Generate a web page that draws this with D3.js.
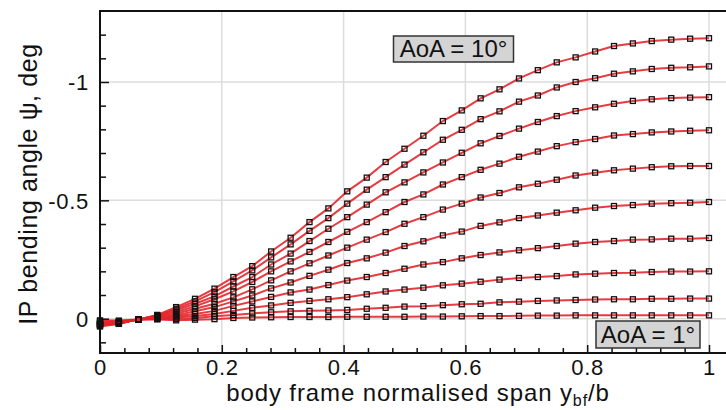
<!DOCTYPE html>
<html>
<head>
<meta charset="utf-8">
<script src="https://cdn.jsdelivr.net/npm/d3@7"></script>
<style>
	body { margin: 0; background: #fff; }
	svg { display: block; }
	text { font-family: "Liberation Sans", Arial, sans-serif; fill: #111; }
</style>
</head>
<body>
<svg width="726" height="410"></svg>
<script>
// Spanwise stations (normalised span y_bf/b)
const spanPts = [0, 0.031, 0.063, 0.094, 0.125, 0.156, 0.188, 0.219, 0.25, 0.281, 0.313, 0.344, 0.375, 0.406, 0.438, 0.469,
	0.5, 0.531, 0.563, 0.594, 0.625, 0.656, 0.688, 0.719, 0.75, 0.781, 0.813, 0.844, 0.875, 0.906, 0.938, 0.969, 1];

// IP bending angle (deg) per angle of attack
const aoa1 = [0.007, 0.008, 0.003, 0.003, 0.007, 0.004, 0.002, -0.003, -0.005, -0.006, -0.007, -0.007, -0.007, -0.008, -0.008, -0.008,
	-0.008, -0.009, -0.009, -0.010, -0.011, -0.011, -0.012, -0.013, -0.013, -0.014, -0.014, -0.014, -0.014, -0.014, -0.014, -0.014, -0.014];
const aoa2 = [0.011, 0.011, 0.003, 0.001, 0.001, -0.003, -0.010, -0.016, -0.022, -0.027, -0.031, -0.033, -0.035, -0.037, -0.042, -0.046,
	-0.051, -0.053, -0.057, -0.061, -0.063, -0.069, -0.072, -0.075, -0.077, -0.079, -0.081, -0.082, -0.082, -0.084, -0.084, -0.085, -0.085];
const aoa3 = [0.016, 0.013, 0.003, -0.001, -0.005, -0.011, -0.020, -0.033, -0.046, -0.056, -0.067, -0.075, -0.082, -0.091, -0.103, -0.115,
	-0.123, -0.131, -0.141, -0.148, -0.156, -0.165, -0.172, -0.176, -0.180, -0.187, -0.190, -0.193, -0.194, -0.197, -0.199, -0.199, -0.200];
const aoa4 = [0.020, 0.015, 0.003, -0.003, -0.010, -0.020, -0.033, -0.054, -0.073, -0.092, -0.111, -0.123, -0.142, -0.161, -0.176, -0.193,
	-0.211, -0.229, -0.239, -0.255, -0.269, -0.280, -0.289, -0.298, -0.307, -0.317, -0.324, -0.328, -0.334, -0.335, -0.338, -0.338, -0.341];
const aoa5 = [0.022, 0.016, 0.003, -0.005, -0.014, -0.031, -0.049, -0.073, -0.098, -0.128, -0.153, -0.181, -0.207, -0.235, -0.255, -0.279,
	-0.307, -0.327, -0.352, -0.368, -0.392, -0.407, -0.425, -0.436, -0.448, -0.458, -0.469, -0.476, -0.480, -0.486, -0.488, -0.490, -0.493];
const aoa6 = [0.024, 0.018, 0.003, -0.008, -0.021, -0.042, -0.063, -0.090, -0.124, -0.162, -0.200, -0.234, -0.267, -0.300, -0.334, -0.366,
	-0.401, -0.429, -0.461, -0.486, -0.512, -0.531, -0.555, -0.570, -0.587, -0.605, -0.617, -0.627, -0.634, -0.640, -0.644, -0.645, -0.645];
const aoa7 = [0.026, 0.019, 0.003, -0.010, -0.028, -0.052, -0.082, -0.115, -0.155, -0.200, -0.242, -0.282, -0.324, -0.367, -0.408, -0.450,
	-0.493, -0.525, -0.567, -0.598, -0.629, -0.655, -0.684, -0.706, -0.729, -0.746, -0.759, -0.774, -0.780, -0.787, -0.791, -0.794, -0.796];
const aoa8 = [0.028, 0.020, 0.003, -0.012, -0.035, -0.063, -0.094, -0.136, -0.176, -0.229, -0.275, -0.328, -0.380, -0.429, -0.482, -0.534,
	-0.576, -0.618, -0.660, -0.701, -0.741, -0.772, -0.803, -0.831, -0.856, -0.877, -0.893, -0.908, -0.920, -0.927, -0.932, -0.934, -0.936];
const aoa9 = [0.030, 0.021, 0.003, -0.014, -0.042, -0.073, -0.112, -0.158, -0.204, -0.259, -0.314, -0.371, -0.425, -0.486, -0.545, -0.598,
	-0.651, -0.703, -0.756, -0.798, -0.843, -0.876, -0.917, -0.943, -0.977, -1.000, -1.016, -1.035, -1.045, -1.055, -1.060, -1.062, -1.066];
const aoa10 = [0.033, 0.022, 0.003, -0.016, -0.049, -0.084, -0.127, -0.176, -0.222, -0.284, -0.342, -0.408, -0.466, -0.538, -0.596, -0.662,
	-0.718, -0.773, -0.835, -0.880, -0.931, -0.969, -1.015, -1.050, -1.083, -1.104, -1.129, -1.152, -1.163, -1.173, -1.179, -1.183, -1.185];

const allCurves = [aoa1, aoa2, aoa3, aoa4, aoa5, aoa6, aoa7, aoa8, aoa9, aoa10];

// Ticks
const xMajor = [0, 0.2, 0.4, 0.6, 0.8, 1];
const xMinor = [0.04, 0.08, 0.12, 0.16, 0.24, 0.28, 0.32, 0.36, 0.44, 0.48, 0.52, 0.56, 0.64, 0.68, 0.72, 0.76, 0.84, 0.88, 0.92, 0.96];
const yMajor = [-1, -0.5, 0];
const yMinor = [-1.2, -1.1, -0.9, -0.8, -0.7, -0.6, -0.4, -0.3, -0.2, -0.1, 0.1];

const svg = d3.select("svg");
const plotLeft = 100, plotRight = 709, plotTop = 11, plotBottom = 353;

const x = d3.scaleLinear().domain([0, 1]).range([plotLeft, plotRight]);
const y = d3.scaleLinear().domain([0.145, -1.3]).range([plotBottom, plotTop]);

// Grid
//-----------------------------------------------------------//
svg.append("g").selectAll("line").data(xMajor.filter(d => d > 0)).join("line")
	.attr("x1", d => x(d)).attr("x2", d => x(d))
	.attr("y1", plotTop).attr("y2", plotBottom)
	.style("stroke", "#dcdcdc").style("stroke-width", 1.5);
svg.append("g").selectAll("line").data(yMajor).join("line")
	.attr("x1", plotLeft).attr("x2", 726)
	.attr("y1", d => y(d)).attr("y2", d => y(d))
	.style("stroke", "#dcdcdc").style("stroke-width", 1.5);

// Curves + markers
//-----------------------------------------------------------//
const line = d3.line()
	.x((d, i) => x(spanPts[i]))
	.y(d => y(d));

svg.append("g").selectAll("path").data(allCurves).join("path")
	.attr("d", line)
	.style("fill", "none")
	.style("stroke", "#e3262b")
	.style("stroke-width", 2)
	.style("opacity", 0.9);

allCurves.forEach((curve) => {
	svg.append("g").selectAll("rect").data(curve).join("rect")
		.attr("x", (d, i) => x(spanPts[i]) - 2.5)
		.attr("y", d => y(d) - 2.5)
		.attr("width", 5)
		.attr("height", 5)
		.style("fill", "none")
		.style("stroke", "#111")
		.style("stroke-width", 1.3);
});

// Frame
//-----------------------------------------------------------//
svg.append("path")
	.attr("d", `M726,${plotTop}H${plotLeft}V${plotBottom}H726`)
	.style("fill", "none")
	.style("stroke", "#111")
	.style("stroke-width", 2);

// Axes, ticks point inward
//-----------------------------------------------------------//
svg.append("g")
	.attr("transform", `translate(0,${plotBottom})`)
	.call(d3.axisBottom(x).tickValues(xMajor).tickSize(-8).tickPadding(6).tickFormat(d => String(d)));
svg.append("g")
	.attr("transform", `translate(0,${plotBottom})`)
	.call(d3.axisBottom(x).tickValues(xMinor).tickSize(-5).tickFormat(""));

const yAxis = svg.append("g")
	.attr("transform", `translate(${plotLeft},0)`)
	.call(d3.axisLeft(y).tickValues(yMajor).tickSize(-9).tickPadding(11).tickFormat(d => String(d)));
svg.append("g")
	.attr("transform", `translate(${plotLeft},0)`)
	.call(d3.axisLeft(y).tickValues(yMinor).tickSize(-6).tickFormat(""));

svg.selectAll(".domain").remove();
svg.selectAll(".tick line").style("stroke", "#111").style("stroke-width", 1.5);
svg.selectAll(".tick text")
	.style("font-size", "22px")
	.style("letter-spacing", "0.7px")
	.style("font-family", "'Liberation Sans', Arial, sans-serif")
	.attr("fill", "#111");
yAxis.selectAll(".tick text").attr("dy", "0.36em");

// Axis titles
//-----------------------------------------------------------//
const xTitle = svg.append("text")
	.attr("x", 418)
	.attr("y", 401)
	.attr("text-anchor", "middle")
	.style("font-size", "24px")
	.style("letter-spacing", "0.9px");
xTitle.append("tspan").text("body frame normalised span y");
xTitle.append("tspan").attr("dy", 5).style("font-size", "16px").text("bf");
xTitle.append("tspan").attr("dy", -5).text("/b");

svg.append("text")
	.attr("transform", "translate(37,184) rotate(-90)")
	.attr("text-anchor", "middle")
	.style("font-size", "25px")
	.style("letter-spacing", "0.6px")
	.text("IP bending angle \u03c8, deg");

// AoA labels
//-----------------------------------------------------------//
const labels = [
	{ text: "AoA = 10\u00b0", x: 393.5, y: 36, w: 120, h: 26 },
	{ text: "AoA = 1\u00b0", x: 596, y: 321, w: 104, h: 27 }
];
labels.forEach((l) => {
	svg.append("rect")
		.attr("x", l.x).attr("y", l.y)
		.attr("width", l.w).attr("height", l.h)
		.style("fill", "#d4d4d4")
		.style("stroke", "#333")
		.style("stroke-width", 1.5);
	svg.append("text")
		.attr("x", l.x + l.w / 2)
		.attr("y", l.y + l.h - 5)
		.attr("text-anchor", "middle")
		.style("font-size", "24px")
		.text(l.text);
});
</script>
</body>
</html>
